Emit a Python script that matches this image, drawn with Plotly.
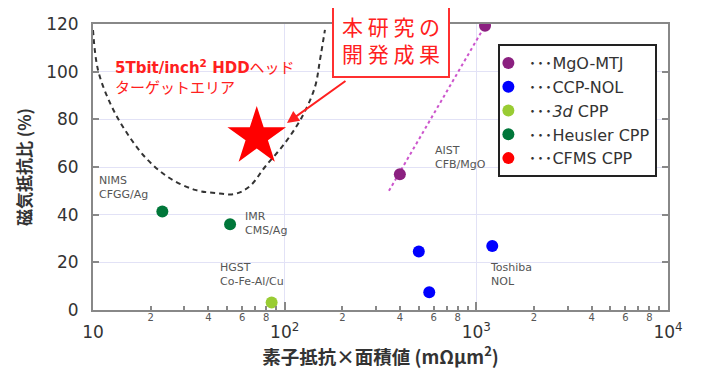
import numpy as np
import plotly.graph_objects as go

# ---- data ----
mgo_x = [399, 1110]
mgo_y = [57.0, 119.3]
mgo_fit_x = [350, 1110]
mgo_fit_y = [50.0, 119.3]

ccp_x = [501, 568, 1211]
ccp_y = [24.5, 7.4, 26.9]

cpp3d_x = [85.5]
cpp3d_y = [3.1]

heusler_x = [23.0, 51.9]
heusler_y = [41.3, 36.0]

cfms_x = [71.5]
cfms_y = [72.7]

# target area boundary (dashed U-shaped curve)
target_x = [10.0, 10.62, 12.27, 14.69, 18.67, 24.61, 34.05, 43.3, 55.0, 65.9, 78.9, 100.4, 123.1, 143.9, 152.8, 162.2]
target_y = [117.5, 100.7, 86.9, 75.5, 64.2, 55.8, 50.4, 49.1, 48.7, 52.0, 60.0, 70.1, 81.0, 93.6, 104.9, 117.5]

series_names = ["･･･MgO-MTJ", "･･･CCP-NOL", "･･･<i>3d</i> CPP", "･･･Heusler CPP", "･･･CFMS CPP"]
series_colors = ["#8B2080", "#0000FF", "#99CC33", "#00773A", "#FF0000"]

x_major_vals = [10, 100, 1000, 10000]
x_major_text = ["10", "10<sup>2</sup>", "10<sup>3</sup>", "10<sup>4</sup>"]
x_minor_vals = [m * d for d in (10, 100, 1000) for m in (2, 4, 6, 8)]
x_minor_text = [str(m) for d in (10, 100, 1000) for m in (2, 4, 6, 8)]
x_minor_ticks = [m * d for d in (10, 100, 1000) for m in range(2, 10)]
y_vals = [0, 20, 40, 60, 80, 100, 120]

point_labels = [
    ("NIMS<br>CFGG/Ag", 10.5, 51.6),
    ("IMR<br>CMS/Ag", 60.5, 36.1),
    ("HGST<br>Co-Fe-Al/Cu", 44.9, 14.7),
    ("AIST<br>CFB/MgO", 594, 64.0),
    ("Toshiba<br>NOL", 1148, 14.7),
]

FONT = "DejaVu Sans, Noto Sans CJK JP, sans-serif"
JFONT = "Noto Sans CJK JP, DejaVu Sans, sans-serif"

fig = go.Figure()

# target area curve
fig.add_trace(go.Scatter(x=target_x, y=target_y, mode="lines",
                         line=dict(color="#333333", width=2, dash="5px,4px", shape="spline"),
                         showlegend=False, hoverinfo="skip"))
# MgO fit line
fig.add_trace(go.Scatter(x=mgo_fit_x, y=mgo_fit_y, mode="lines",
                         line=dict(color="#CC55CC", width=2, dash="dot"),
                         showlegend=False, hoverinfo="skip"))

groups = [(mgo_x, mgo_y), (ccp_x, ccp_y), (cpp3d_x, cpp3d_y), (heusler_x, heusler_y)]
for (gx, gy), name, col in zip(groups, series_names[:4], series_colors[:4]):
    fig.add_trace(go.Scatter(x=gx, y=gy, mode="markers", name=name,
                             marker=dict(color=col, size=12, symbol="circle")))
# CFMS: star on plot, circle in legend
fig.add_trace(go.Scatter(x=cfms_x, y=cfms_y, mode="markers", showlegend=False,
                         marker=dict(color=series_colors[4], size=44, symbol="star")))
fig.add_trace(go.Scatter(x=[None], y=[None], mode="markers", name=series_names[4],
                         marker=dict(color=series_colors[4], size=12, symbol="circle")))
# helper trace for the minor-label axis
fig.add_trace(go.Scatter(x=[10, 10000], y=[None, None], xaxis="x2", mode="markers",
                         showlegend=False, hoverinfo="skip"))

annotations = []
for txt, lx, ly in point_labels:
    annotations.append(dict(x=np.log10(lx), y=ly, text=txt, showarrow=False,
                            xanchor="left", yanchor="middle", align="left",
                            font=dict(family=FONT, size=11, color="#555555")))

# red target text
annotations.append(dict(x=np.log10(12.7), y=97.6,
                        text="<b>5Tbit/inch<sup>2</sup> HDD</b>ヘッド<br>ターゲットエリア",
                        showarrow=False, xanchor="left", yanchor="middle", align="left",
                        font=dict(family=FONT, size=15, color="#FF2020")))
# red boxed text
annotations.append(dict(x=np.log10(359), y=113.3, text="本 研 究 の<br>開 発 成 果",
                        showarrow=False, xanchor="center", yanchor="middle", align="center",
                        bordercolor="#FF3030", borderwidth=2, bgcolor="white", borderpad=8,
                        font=dict(family=JFONT, size=21, color="#FF2020")))
# arrow
annotations.append(dict(x=np.log10(102.8), y=78.5, ax=60, ay=-43, text="",
                        showarrow=True, arrowcolor="#FF2020", arrowwidth=2,
                        arrowhead=2, arrowsize=1.2))

fig.update_layout(
    width=696, height=361,
    margin=dict(l=85, r=36, t=16, b=59),
    paper_bgcolor="white", plot_bgcolor="white",
    font=dict(family=FONT, color="#333333"),
    showlegend=True,
    legend=dict(x=0.705, y=0.93, xanchor="left", yanchor="top",
                bgcolor="white", bordercolor="#222222", borderwidth=2,
                font=dict(family=FONT, size=16, color="#333333"),
                itemwidth=30, tracegroupgap=0, indentation=-12),
    xaxis=dict(type="log", range=[1, 4], tickvals=x_major_vals, ticktext=x_major_text,
               automargin=False,
               ticks="inside", ticklen=8, tickcolor="#888888", tickwidth=1.5,
               showline=True, linecolor="#888888", linewidth=2, mirror=True,
               showgrid=True, gridcolor="#E2E2F6", gridwidth=1, zeroline=False,
               tickfont=dict(family=FONT, size=17, color="#333333"),
               ticklabelstandoff=6,
               minor=dict(tickvals=x_minor_ticks, ticks="inside", ticklen=4,
                          tickcolor="#888888", showgrid=False),
               title=dict(text="<b>素子抵抗×面積値 (mΩμm<sup>2</sup>)</b>",
                          font=dict(family=JFONT, size=18.5, color="#333333"), standoff=3)),
    xaxis2=dict(type="log", range=[1, 4], overlaying="x", anchor="y", side="bottom",
                automargin=False,
                tickvals=x_minor_vals, ticktext=x_minor_text, ticks="",
                showline=False, showgrid=False, zeroline=False,
                tickfont=dict(family=FONT, size=10, color="#555555")),
    yaxis=dict(range=[0, 120], tickvals=y_vals, ticks="inside", ticklen=6,
               automargin=False,
               tickcolor="#888888", tickwidth=1.5,
               showline=True, linecolor="#888888", linewidth=2, mirror="ticks",
               showgrid=True, gridcolor="#E2E2F6", gridwidth=1, zeroline=False,
               tickfont=dict(family=FONT, size=17, color="#333333"),
               ticklabelstandoff=9,
               title=dict(text="<b>磁気抵抗比 (%)</b>",
                          font=dict(family=JFONT, size=17, color="#333333"), standoff=10)),
    annotations=annotations,
)

fig.write_html("out.html")
